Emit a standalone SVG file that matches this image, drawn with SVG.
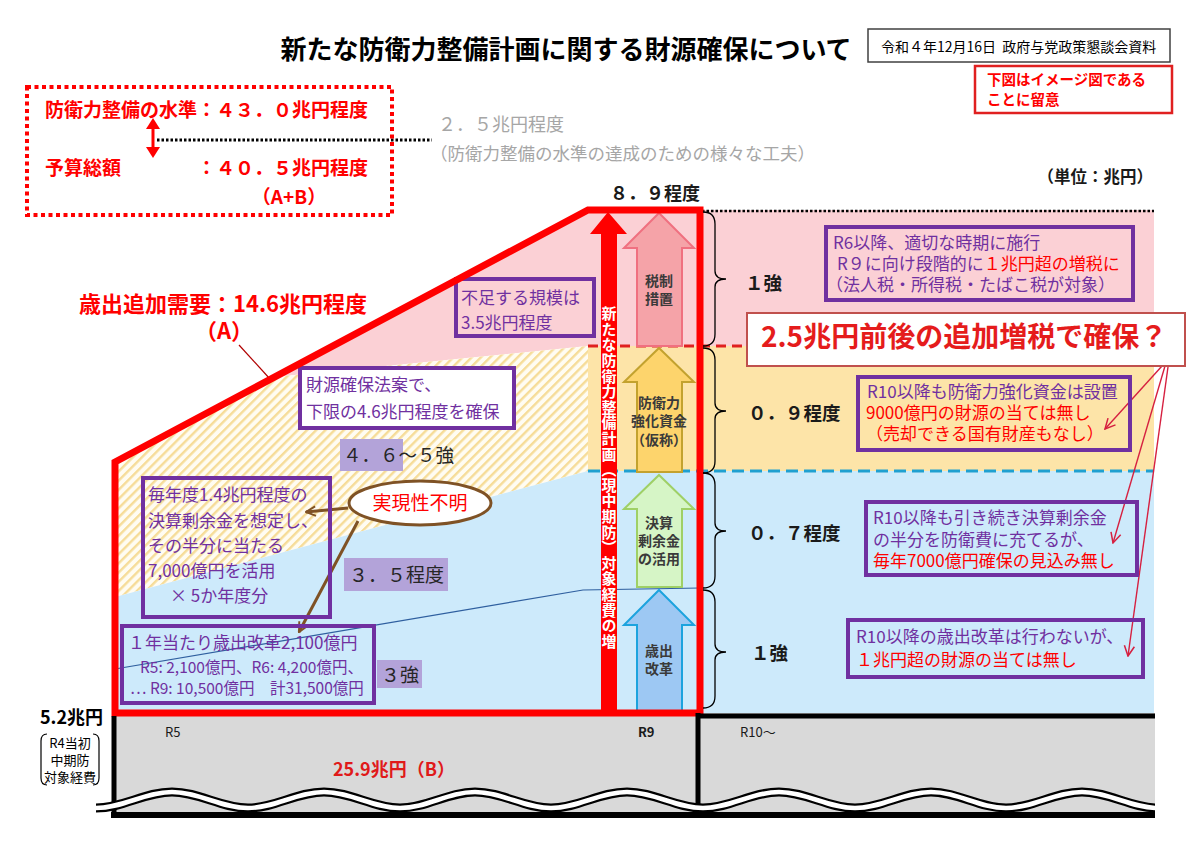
<svg xmlns="http://www.w3.org/2000/svg" width="1200" height="848" viewBox="0 0 1200 848">
<defs>
<style>
text{font-family:"Noto Sans CJK JP","Noto Sans",sans-serif;}
.b{font-weight:bold;}
.pb{fill:none;stroke:#7030a0;stroke-width:4;}
.pt{fill:#7030a0;font-size:17px;}
.pr{fill:#ff0000;}
.red{fill:#ff0000;}
.hl{fill:#b3a3d9;}
.dk{fill:#262626;}
.lbl{fill:#1a1a1a;font-size:18.5px;font-weight:bold;}
.at{fill:#3a3a3a;font-size:14px;font-weight:bold;text-anchor:middle;}
.sm{font-size:15.5px;}
.brace{fill:none;stroke:#000;stroke-width:1.3;}
</style>
<pattern id="hatch" patternUnits="userSpaceOnUse" width="6.5" height="6.5" patternTransform="rotate(45)">
<rect width="6.5" height="6.5" fill="#fffcf2"/>
<rect width="2.4" height="6.5" fill="#f6dc98"/>
</pattern>
<marker id="brownHead" viewBox="0 0 10 10" refX="9" refY="5" markerWidth="4" markerHeight="4" orient="auto" markerUnits="strokeWidth">
<path d="M1,1 L9,5 L1,9" fill="none" stroke="#7f5225" stroke-width="1.6"/>
</marker>
<marker id="redHead" viewBox="0 0 10 10" refX="9" refY="5" markerWidth="9" markerHeight="9" orient="auto" markerUnits="strokeWidth">
<path d="M1,1 L9,5 L1,9" fill="none" stroke="#d62040" stroke-width="1.2"/>
</marker>
<clipPath id="waveClip"><rect x="95" y="700" width="1060" height="130"/></clipPath>
</defs>
<rect width="1200" height="848" fill="#ffffff"/>

<g id="bands">
<polygon points="274,377 588,210 1154,210 1154,346 588,346" fill="#fbd0d5"/>
<rect x="588" y="346" width="566" height="125" fill="#fde4a8"/>
<polygon points="115,462 274,377 588,346 588,471 115,597" fill="url(#hatch)"/>
<polygon points="115,597 588,471 1154,471 1154,713 115,713" fill="#cdeafb"/>
<rect x="115" y="713" width="1040" height="102" fill="#d9d9d9"/>
</g>

<g id="connectors">
<line x1="588" y1="346" x2="748" y2="346" stroke="#e02020" stroke-width="3" stroke-dasharray="10 6"/>
<line x1="588" y1="471" x2="1154" y2="471" stroke="#20a0d0" stroke-width="3" stroke-dasharray="12 6"/>
<line x1="702" y1="211" x2="1154" y2="211" stroke="#000" stroke-width="2.5" stroke-dasharray="2.5 2"/>
<line x1="157" y1="140" x2="432" y2="140" stroke="#000" stroke-width="3" stroke-dasharray="2.5 2"/>
<polyline points="115,669 583,590 700,588" fill="none" stroke="#2f5f9f" stroke-width="1.2"/>
<line x1="239" y1="345" x2="270" y2="379" stroke="#b00000" stroke-width="1.2"/>
<line x1="348" y1="508" x2="306" y2="512" stroke="#7f5225" stroke-width="3" marker-end="url(#brownHead)"/>
<line x1="358" y1="521" x2="299" y2="632" stroke="#7f5225" stroke-width="3" marker-end="url(#brownHead)"/>
<line x1="1162" y1="366" x2="1105" y2="429" stroke="#d62040" stroke-width="1.4" marker-end="url(#redHead)"/>
<line x1="1165" y1="366" x2="1113" y2="543" stroke="#d62040" stroke-width="1.4" marker-end="url(#redHead)"/>
<line x1="1168" y1="367" x2="1128" y2="656" stroke="#d62040" stroke-width="1.4" marker-end="url(#redHead)"/>
</g>

<g id="title">
<text x="566" y="59" text-anchor="middle" class="b" font-size="26" fill="#000">新たな防衛力整備計画に関する財源確保について</text>
</g>
<g id="date-box">
<rect x="868" y="29" width="302" height="33" fill="#fff" stroke="#404040" stroke-width="1.5"/>
<text x="881" y="52" font-size="14" fill="#000" xml:space="preserve">令和４年12月16日  政府与党政策懇談会資料</text>
</g>
<g id="note-box">
<rect x="975" y="66" width="197" height="47" fill="#fff" stroke="#e02020" stroke-width="2.5"/>
<text x="987" y="85" font-size="14.5" class="b red">下図はイメージ図である</text>
<text x="987" y="105" font-size="14.5" class="b red">ことに留意</text>
</g>

<g id="summary-box">
<rect x="27" y="87" width="365" height="128" fill="none" stroke="#ff0000" stroke-width="4" stroke-dasharray="4 3.5"/>
<text x="45" y="117" font-size="19" class="b red">防衛力整備の水準：４３．０兆円程度</text>
<text x="45" y="175" font-size="19" class="b red">予算総額</text>
<text x="368" y="175" font-size="19" class="b red" text-anchor="end">：４０．５兆円程度</text>
<text x="289" y="204" font-size="19" class="b red" text-anchor="middle">（A+B）</text>
<line x1="153" y1="127" x2="153" y2="150" stroke="#ff0000" stroke-width="3"/>
<polygon points="153,118 146,129 160,129" fill="#ff0000"/>
<polygon points="153,158 146,147 160,147" fill="#ff0000"/>
</g>
<g id="gap-note">
<text x="438" y="131" font-size="18" fill="#a6a6a6">２．５兆円程度</text>
<text x="430" y="160" font-size="17.5" fill="#a6a6a6">（防衛力整備の水準の達成のための様々な工夫）</text>
</g>
<g id="unit">
<text x="1153" y="183" font-size="16.5" class="b" fill="#1a1a1a" text-anchor="end">（単位：兆円）</text>
</g>
<g id="total-89">
<text x="610" y="200" font-size="18" class="b" fill="#1a1a1a">８．９程度</text>
</g>

<g id="label-A">
<text x="79" y="312" font-size="22" class="b red">歳出追加需要：14.6兆円程度</text>
<text x="224" y="339" font-size="22" class="b red" text-anchor="middle">（A）</text>
</g>

<g id="shortfall-box">
<rect x="456" y="279" width="138" height="57" class="pb"/>
<text x="461" y="304" class="pt">不足する規模は</text>
<text x="461" y="329" class="pt">3.5兆円程度</text>
</g>
<g id="law-box">
<rect x="300" y="368" width="214" height="60" fill="#fff" stroke="#7030a0" stroke-width="4"/>
<text x="306" y="391" class="pt">財源確保法案で、</text>
<text x="306" y="418" class="pt">下限の4.6兆円程度を確保</text>
</g>
<g id="val-46">
<rect x="340" y="439" width="63" height="32" class="hl"/>
<text x="343" y="462" font-size="18.5" class="dk">４．６～５強</text>
</g>
<g id="surplus-box">
<rect x="143" y="478" width="187" height="139" class="pb"/>
<text x="148" y="501" class="pt">毎年度1.4兆円程度の</text>
<text x="148" y="527" class="pt">決算剰余金を想定し、</text>
<text x="148" y="552" class="pt">その半分に当たる</text>
<text x="148" y="577" class="pt">7,000億円を活用</text>
<text x="170" y="602" class="pt">× 5か年度分</text>
</g>
<g id="uncertain">
<ellipse cx="420" cy="503" rx="71" ry="22" fill="#fff" stroke="#7f5225" stroke-width="3"/>
<text x="420" y="510" font-size="19" class="red" text-anchor="middle">実現性不明</text>
</g>
<g id="val-35">
<rect x="344" y="558" width="104" height="33" class="hl"/>
<text x="349" y="582" font-size="19" class="dk">３．５程度</text>
</g>
<g id="reform-box">
<rect x="122" y="626" width="252" height="77" class="pb"/>
<text x="128" y="649" class="pt">１年当たり歳出改革2,100億円</text>
<text x="140" y="673" class="pt sm">R5: 2,100億円、R6: 4,200億円、</text>
<text x="130" y="694" class="pt sm">… R9: 10,500億円　計31,500億円</text>
</g>
<g id="val-3">
<rect x="377" y="660" width="45" height="28" class="hl"/>
<text x="381" y="682" font-size="19" class="dk">３強</text>
</g>

<g id="arrow-tax">
<path d="M659,213 L694,248 L682,248 L682,346 L637,346 L637,248 L624,248 Z" fill="#f5a3a8" stroke="#f07080" stroke-width="2"/>
<text x="659" y="286" class="at">税制</text>
<text x="659" y="304" class="at">措置</text>
</g>
<g id="arrow-fund">
<path d="M659,348 L694,382 L682,382 L682,472 L637,472 L637,382 L624,382 Z" fill="#fdd46c" stroke="#c3a22e" stroke-width="2"/>
<text x="659" y="408" class="at">防衛力</text>
<text x="659" y="426" class="at">強化資金</text>
<text x="659" y="445" class="at">（仮称）</text>
</g>
<g id="arrow-surplus">
<path d="M659,475 L694,509 L682,509 L682,587 L637,587 L637,509 L624,509 Z" fill="#d6f5c6" stroke="#9fd066" stroke-width="2"/>
<text x="659" y="528" class="at">決算</text>
<text x="659" y="546" class="at">剰余金</text>
<text x="659" y="564" class="at">の活用</text>
</g>
<g id="arrow-reform">
<path d="M659,590 L694,625 L682,625 L682,712 L637,712 L637,625 L624,625 Z" fill="#9dc8f3" stroke="#1ca3de" stroke-width="2"/>
<text x="659" y="656" class="at">歳出</text>
<text x="659" y="674" class="at">改革</text>
</g>

<g id="outline-A">
<path d="M115,713 L115,462 L588,210 L700,210 L700,713 Z" fill="none" stroke="#ff0000" stroke-width="7"/>
</g>
<g id="arrow-plan">
<path d="M608,212 L627,234 L617,234 L617,713 L601,713 L601,234 L590,234 Z" fill="#ff0000"/>
<text x="609" y="306" writing-mode="vertical-rl" font-size="15" letter-spacing="0.6" class="b" fill="#fff">新たな防衛力整備計画（現中期防）対象経費の増</text>
</g>

<g id="braces">
<path class="brace" d="M703,212 Q715,212 715,224 L715,271 Q715,279 726,279 Q715,279 715,287 L715,334 Q715,346 703,346"/>
<path class="brace" d="M703,348 Q715,348 715,360 L715,403 Q715,411 726,411 Q715,411 715,419 L715,461 Q715,473 703,473"/>
<path class="brace" d="M703,473 Q715,473 715,485 L715,523 Q715,531 726,531 Q715,531 715,539 L715,576 Q715,588 703,588"/>
<path class="brace" d="M703,590 Q715,590 715,602 L715,644 Q715,652 726,652 Q715,652 715,660 L715,696 Q715,708 703,708"/>
</g>
<g id="values-right">
<text x="745" y="290" class="lbl">１強</text>
<text x="748" y="420" class="lbl">０．９程度</text>
<text x="748" y="540" class="lbl">０．７程度</text>
<text x="751" y="660" class="lbl">１強</text>
</g>

<g id="tax-box">
<rect x="826" y="227" width="307" height="73" class="pb"/>
<text x="833" y="249" class="pt">R6以降、適切な時期に施行</text>
<text x="837" y="270" class="pt">R９に向け段階的に<tspan class="pr">１兆円超の増税に</tspan></text>
<text x="826" y="291" class="pt">（法人税・所得税・たばこ税が対象）</text>
</g>
<g id="fund-box">
<rect x="858" y="377" width="272" height="73" class="pb"/>
<text x="867" y="398" class="pt">R10以降も防衛力強化資金は設置</text>
<text x="866" y="419" class="pt pr">9000億円の財源の当ては無し</text>
<text x="866" y="440" class="pt pr">（売却できる国有財産もなし）</text>
</g>
<g id="surplus-r10-box">
<rect x="866" y="502" width="271" height="73" class="pb"/>
<text x="873" y="524" class="pt">R10以降も引き続き決算剰余金</text>
<text x="873" y="546" class="pt">の半分を防衛費に充てるが、</text>
<text x="873" y="567" class="pt pr">毎年7000億円確保の見込み無し</text>
</g>
<g id="reform-r10-box">
<rect x="848" y="620" width="295" height="57" class="pb"/>
<text x="856" y="643" class="pt">R10以降の歳出改革は行わないが、</text>
<text x="856" y="666" class="pt pr">１兆円超の財源の当ては無し</text>
</g>

<g id="extra-tax-box">
<rect x="747" y="313" width="438" height="53" fill="#fff" stroke="#c0504d" stroke-width="2"/>
<text x="761" y="347" font-size="28" class="b" fill="#e51c1c">2.5兆円前後の追加増税で確保？</text>
</g>

<g id="base-B">
<line x1="114" y1="716" x2="114" y2="818" stroke="#000" stroke-width="5"/>
<line x1="698" y1="713" x2="698" y2="818" stroke="#000" stroke-width="5"/>
<line x1="700" y1="716" x2="1155" y2="716" stroke="#000" stroke-width="5"/>
<g clip-path="url(#waveClip)">
<path d="M96,808 C123,808 145,792 172,792 S221,808 248,808 S297,792 324,792 S373,808 400,808 S448,792 475,792 S524,808 551,808 S600,792 627,792 S676,808 703,808 S752,792 779,792 S828,808 855,808 S904,792 931,792 S979,808 1006,808 S1055,792 1082,792 S1131,808 1158,808" fill="none" stroke="#000" stroke-width="9"/>
<path d="M96,808 C123,808 145,792 172,792 S221,808 248,808 S297,792 324,792 S373,808 400,808 S448,792 475,792 S524,808 551,808 S600,792 627,792 S676,808 703,808 S752,792 779,792 S828,808 855,808 S904,792 931,792 S979,808 1006,808 S1055,792 1082,792 S1131,808 1158,808" fill="none" stroke="#fff" stroke-width="4.5"/>
</g>
<line x1="111" y1="815" x2="1155" y2="815" stroke="#000" stroke-width="6"/>
<text x="165" y="737" font-size="13" fill="#1a1a1a">R5</text>
<text x="638" y="737" font-size="13" class="b" fill="#1a1a1a">R9</text>
<text x="740" y="737" font-size="13" fill="#1a1a1a">R10～</text>
<text x="333" y="776" font-size="18" class="b" fill="#e01a1a">25.9兆円（B）</text>
</g>
<g id="base-label">
<text x="40" y="724" font-size="18" class="b" fill="#000">5.2兆円</text>
<path d="M47,734 Q41,734 41,741 L41,778 Q41,785 47,785" fill="none" stroke="#000" stroke-width="1.2"/>
<path d="M93,734 Q99,734 99,741 L99,778 Q99,785 93,785" fill="none" stroke="#000" stroke-width="1.2"/>
<text x="70" y="748" font-size="13" fill="#000" text-anchor="middle">R4当初</text>
<text x="70" y="765" font-size="13" fill="#000" text-anchor="middle">中期防</text>
<text x="70" y="782" font-size="13" fill="#000" text-anchor="middle">対象経費</text>
</g>
</svg>
